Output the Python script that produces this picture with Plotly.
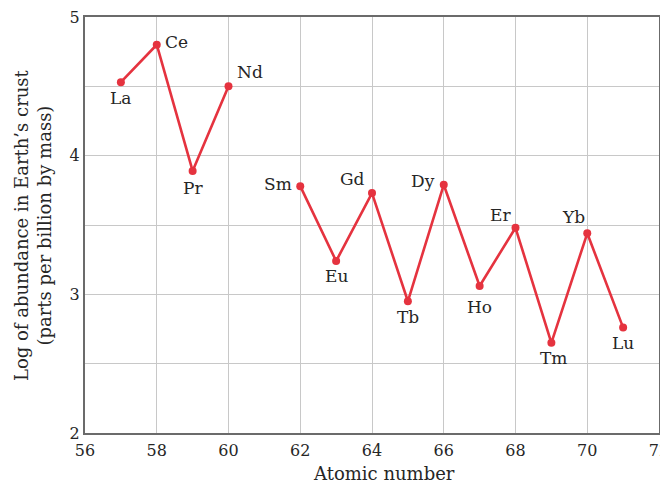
import plotly.graph_objects as go

elements = ["La", "Ce", "Pr", "Nd", "Sm", "Eu", "Gd", "Tb", "Dy", "Ho", "Er", "Tm", "Yb", "Lu"]
atomic_number = [57, 58, 59, 60, 62, 63, 64, 65, 66, 67, 68, 69, 70, 71]
log_abundance = [4.53, 4.80, 3.89, 4.50, 3.78, 3.24, 3.73, 2.95, 3.79, 3.06, 3.48, 2.65, 3.44, 2.76]
x_ticks = [56, 58, 60, 62, 64, 66, 68, 70, 72]
y_ticks = [2, 3, 4, 5]

# label offsets in pixels (right, down) from each point
label_dx = [0, 20, 0, 21, -22, 0, -20, 0, -21, 0, -15, 2, -14, 0]
label_dy = [16, -3, 17, -14, -2, 15, -14, 16, -4, 21, -13, 15, -16, 15]

FONT = "DejaVu Serif"
RED = "#e5333f"
TXT = "#262626"

# Pm (61) is not plotted: break the line there
gap_idx = atomic_number.index(62)
xs = atomic_number[:gap_idx] + [None] + atomic_number[gap_idx:]
ys = log_abundance[:gap_idx] + [None] + log_abundance[gap_idx:]

fig = go.Figure()
fig.add_trace(go.Scatter(
    x=xs, y=ys,
    mode="lines+markers",
    line=dict(color=RED, width=2.6),
    marker=dict(color=RED, size=8),
    connectgaps=False,
    cliponaxis=False,
    hoverinfo="skip",
))

for el, xv, yv, dx, dy in zip(elements, atomic_number, log_abundance, label_dx, label_dy):
    fig.add_annotation(
        x=xv, y=yv, text=el, showarrow=False,
        xanchor="center", yanchor="middle",
        xshift=dx, yshift=-dy,
        font=dict(family=FONT, size=17, color=TXT),
    )

# axis titles
fig.add_annotation(
    xref="paper", yref="paper", x=0.5, y=0, text="Atomic number",
    showarrow=False, xanchor="center", yanchor="bottom",
    xshift=12, yshift=-53,
    font=dict(family=FONT, size=18, color=TXT),
)
fig.add_annotation(
    xref="paper", yref="paper", x=0, y=0.5,
    text="Log of abundance in Earth\u2019s crust<br>(parts per billion by mass)",
    showarrow=False, xanchor="center", yanchor="middle", textangle=-90,
    xshift=-52, yshift=0,
    font=dict(family=FONT, size=18, color=TXT),
)

# the page body has an 8px margin: compensate so the plot area lands at 85..659 x 17..433
fig.update_layout(
    width=660, height=477,
    margin=dict(l=77, r=9, t=9, b=52),
    plot_bgcolor="white", paper_bgcolor="white",
    showlegend=False,
    font=dict(family=FONT, size=16, color=TXT),
)
fig.update_xaxes(
    range=[56, 72], tickvals=x_ticks,
    showgrid=True, gridcolor="#c8c8c8", gridwidth=1,
    showline=True, linecolor="#6b6b6b", linewidth=2, mirror=True,
    ticks="", zeroline=False, automargin=False,
    ticklabeloverflow="allow", ticklabelstandoff=2,
    tickfont=dict(size=16),
)
fig.update_yaxes(
    range=[2, 5], tickvals=y_ticks,
    showgrid=True, gridcolor="#c8c8c8", gridwidth=1,
    minor=dict(dtick=0.5, showgrid=True, gridcolor="#c8c8c8", gridwidth=1),
    showline=True, linecolor="#6b6b6b", linewidth=2, mirror=True,
    ticks="", zeroline=False, automargin=False,
    ticklabeloverflow="allow",
    tickfont=dict(size=16),
)

fig.write_html("out.html")
